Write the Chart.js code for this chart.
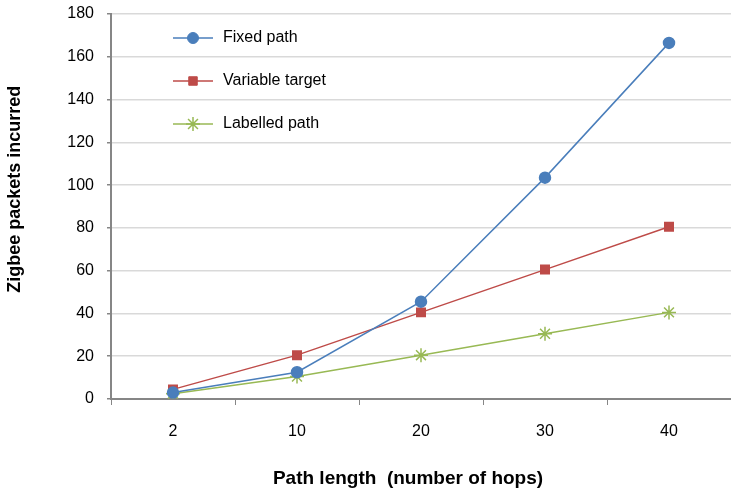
<!DOCTYPE html>
<html>
<head>
<meta charset="utf-8">
<script src="https://cdn.jsdelivr.net/npm/chart.js@4/dist/chart.umd.min.js"></script>
<style>
  html, body { margin: 0; padding: 0; background: #fff; }
  #box { width: 731px; height: 489px; }
</style>
</head>
<body>
<div id="box"><canvas id="grafico"></canvas></div>
<script>
// Dados
const comprimentos = ['2', '10', '20', '30', '40'];
const caminhoFixo = [3, 12.5, 45.5, 103.5, 166.5];
const alvoVariavel = [4.5, 20.5, 40.5, 60.5, 80.5];
const caminhoRotulado = [2.5, 10.5, 20.5, 30.5, 40.5];
const ticksY = [0, 20, 40, 60, 80, 100, 120, 140, 160, 180];

const fonte = "'Liberation Sans', Arial, sans-serif";

// Legenda desenhada dentro da área do gráfico (canto superior esquerdo)
const legendaInterna = {
    id: 'legendaInterna',
    afterDatasetsDraw(chart) {
        const ctx = chart.ctx;
        const x0 = chart.chartArea.left + 62;
        const y0 = chart.chartArea.top + 24;
        chart.data.datasets.forEach((ds, i) => {
            const y = y0 + i * 43;
            ctx.save();
            ctx.strokeStyle = ds.borderColor;
            ctx.lineWidth = 1.5;
            ctx.beginPath();
            ctx.moveTo(x0, y);
            ctx.lineTo(x0 + 40, y);
            ctx.stroke();
            ctx.fillStyle = ds.pointBackgroundColor;
            ctx.strokeStyle = ds.pointBorderColor;
            ctx.lineWidth = ds.pointBorderWidth || 1;
            Chart.helpers.drawPoint(ctx, {
                pointStyle: ds.pointStyle,
                radius: ds.pointRadius,
                borderWidth: ds.pointBorderWidth || 1
            }, x0 + 20, y);
            ctx.fillStyle = '#000';
            ctx.font = '16px ' + fonte;
            ctx.textBaseline = 'middle';
            ctx.fillText(ds.label, x0 + 50, y);
            ctx.restore();
        });
    }
};

// Títulos dos eixos, posicionados como no original
const titulosEixos = {
    id: 'titulosEixos',
    afterDraw(chart) {
        const ctx = chart.ctx;
        const area = chart.chartArea;
        ctx.save();
        ctx.fillStyle = '#000';
        ctx.textAlign = 'center';

        ctx.font = 'bold 19px ' + fonte;
        ctx.textBaseline = 'alphabetic';
        ctx.fillText('Path length  (number of hops)', 408, area.bottom + 85);

        ctx.translate(15, area.top + area.height * 0.455);
        ctx.rotate(-Math.PI / 2);
        ctx.font = 'bold 18px ' + fonte;
        ctx.textBaseline = 'middle';
        ctx.fillText('Zigbee packets incurred', 0, 0);
        ctx.restore();
    }
};

new Chart(document.getElementById('grafico'), {
    type: 'line',
    data: {
        labels: comprimentos,
        datasets: [
            {
                label: 'Fixed path',
                data: caminhoFixo,
                borderColor: '#4a7ebb',
                backgroundColor: '#4a7ebb',
                pointBackgroundColor: '#4a7ebb',
                pointBorderColor: '#4a7ebb',
                pointStyle: 'circle',
                pointRadius: 5.5,
                borderWidth: 1.5
            },
            {
                label: 'Variable target',
                data: alvoVariavel,
                borderColor: '#be4b48',
                backgroundColor: '#be4b48',
                pointBackgroundColor: '#be4b48',
                pointBorderColor: '#be4b48',
                pointStyle: 'rect',
                pointRadius: 6,
                borderWidth: 1.5
            },
            {
                label: 'Labelled path',
                data: caminhoRotulado,
                borderColor: '#98b954',
                backgroundColor: '#98b954',
                pointBackgroundColor: '#98b954',
                pointBorderColor: '#98b954',
                pointStyle: 'star',
                pointRadius: 7,
                pointBorderWidth: 1.5,
                borderWidth: 1.5
            }
        ]
    },
    options: {
        responsive: true,
        maintainAspectRatio: false,
        animation: false,
        layout: { autoPadding: false, padding: { top: 14, right: -5, bottom: 4, left: 0 } },
        plugins: {
            legend: { display: false },
            tooltip: { enabled: false }
        },
        scales: {
            x: {
                offset: true,
                grid: {
                    offset: true,
                    drawOnChartArea: false,
                    drawTicks: true,
                    tickLength: 6,
                    color: '#868686'
                },
                border: { color: '#868686', width: 2 },
                ticks: {
                    color: '#000',
                    padding: 17,
                    font: { family: fonte, size: 16 }
                },
                afterFit(escala) {
                    escala.height = 86;
                    escala.paddingLeft = 0;
                    escala.paddingRight = 0;
                }
            },
            y: {
                min: 0,
                max: 180,
                afterBuildTicks(escala) {
                    escala.ticks = ticksY.map(v => ({ value: v }));
                },
                grid: {
                    color: '#d9d9d9',
                    lineWidth: 1.5,
                    tickLength: 4,
                    tickColor: '#868686'
                },
                border: { color: '#868686', width: 2 },
                ticks: {
                    color: '#000',
                    padding: 13,
                    font: { family: fonte, size: 16 }
                },
                afterFit(escala) {
                    escala.width = 111;
                    escala.paddingTop = 0;
                    escala.paddingBottom = 0;
                }
            }
        }
    },
    plugins: [legendaInterna, titulosEixos]
});
</script>
</body>
</html>
